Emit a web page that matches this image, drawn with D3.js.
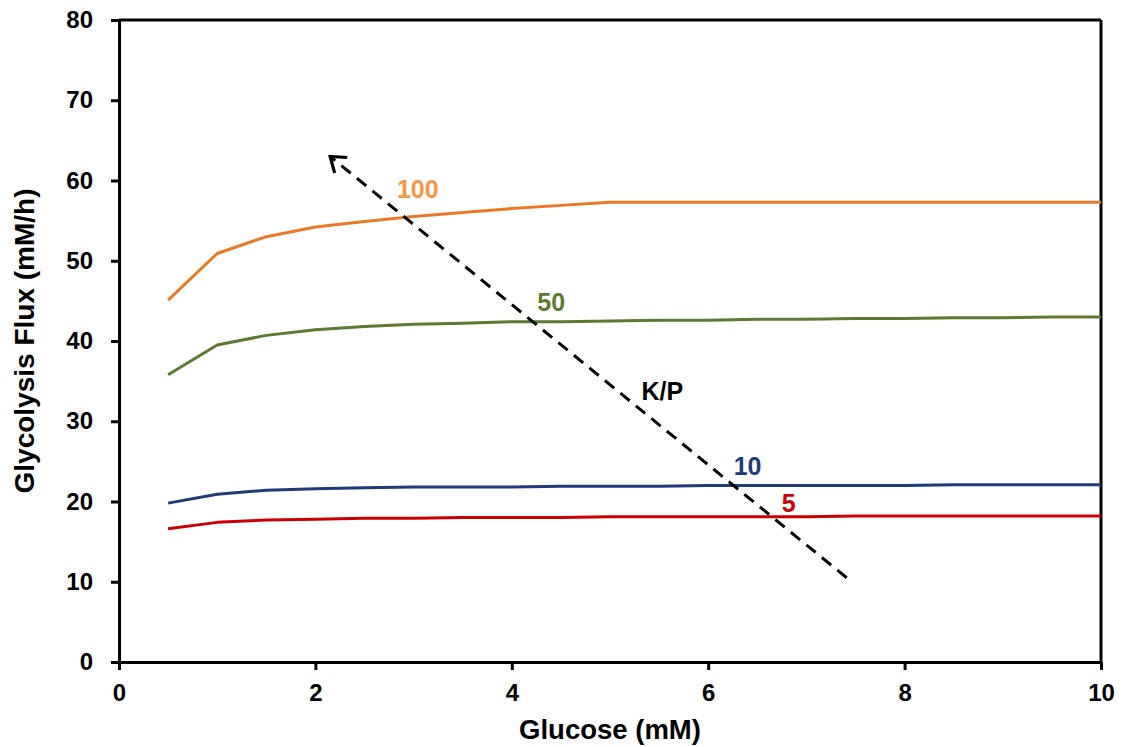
<!DOCTYPE html>
<html>
<head>
<meta charset="utf-8">
<script src="https://cdn.jsdelivr.net/npm/d3@7/dist/d3.min.js"></script>
<style>
  html, body { margin: 0; padding: 0; background: #fff; }
  svg { display: block; font-family: "Liberation Sans", Arial, sans-serif; }
</style>
</head>
<body>
<svg id="chart" width="1125" height="747"></svg>
<script>
// Glucose concentrations (mM)
const glucose = [0.5, 1, 1.5, 2, 2.5, 3, 3.5, 4, 4.5, 5, 5.5, 6, 6.5, 7, 7.5, 8, 8.5, 9, 9.5, 10];

// Glycolysis flux (mM/h) for each K/P ratio
const fluxKP100 = [45.1, 50.9, 53.0, 54.2, 54.9, 55.5, 56.0, 56.5, 56.9, 57.3, 57.3, 57.3, 57.3, 57.3, 57.3, 57.3, 57.3, 57.3, 57.3, 57.3];
const fluxKP50  = [35.8, 39.5, 40.7, 41.4, 41.8, 42.1, 42.2, 42.4, 42.4, 42.5, 42.6, 42.6, 42.7, 42.7, 42.8, 42.8, 42.9, 42.9, 43.0, 43.0];
const fluxKP10  = [19.8, 20.9, 21.4, 21.6, 21.7, 21.8, 21.8, 21.8, 21.9, 21.9, 21.9, 22.0, 22.0, 22.0, 22.0, 22.0, 22.1, 22.1, 22.1, 22.1];
const fluxKP5   = [16.6, 17.4, 17.7, 17.8, 17.9, 17.9, 18.0, 18.0, 18.0, 18.1, 18.1, 18.1, 18.1, 18.1, 18.2, 18.2, 18.2, 18.2, 18.2, 18.2];

const seriesNames = ["100", "50", "10", "5"];
const seriesColors = ["#E97A25", "#5C7A32", "#1F3B78", "#CC0000"];
const labelColors  = ["#F79646", "#5C7A32", "#1F3B78", "#CC0000"];
// label anchor points in data units (glucose, flux)
const labelX = [2.83, 4.26, 6.26, 6.75];
const labelY = [57.8, 43.7, 23.3, 18.7];

const xTicks = [0, 2, 4, 6, 8, 10];
const yTicks = [0, 10, 20, 30, 40, 50, 60, 70, 80];

// K/P trend arrow (data units) and its label
const arrowFrom = [7.41, 10.5];
const arrowTo = [2.15, 63.0];
const kpLabel = { text: "K/P", x: 5.32, y: 32.6 };

const svg = d3.select("#chart");
const x = d3.scaleLinear().domain([0, 10]).range([119, 1101]);
const y = d3.scaleLinear().domain([0, 80]).range([662, 20]);

// Axes
const yAxis = svg.append("g")
  .attr("transform", `translate(${x(0)},0)`)
  .call(d3.axisLeft(y).tickValues(yTicks).tickSize(8).tickSizeOuter(0).tickPadding(18));
const xAxis = svg.append("g")
  .attr("transform", `translate(0,${y(0)})`)
  .call(d3.axisBottom(x).tickValues(xTicks).tickSize(8).tickSizeOuter(0).tickPadding(14));

[yAxis, xAxis].forEach(g => {
  g.selectAll("path, line").attr("stroke", "#000").attr("stroke-width", 3);
  g.selectAll("text")
    .attr("fill", "#000")
    .style("font-size", "24px")
    .style("font-weight", "bold")
    .style("font-family", "'Liberation Sans', Arial, sans-serif");
});

// Frame: top and right edges
svg.append("line")
  .attr("x1", x(0)).attr("x2", x(10))
  .attr("y1", y(80)).attr("y2", y(80))
  .attr("stroke", "#000").attr("stroke-width", 3);
svg.append("line")
  .attr("x1", x(10)).attr("x2", x(10))
  .attr("y1", y(80)).attr("y2", y(0))
  .attr("stroke", "#000").attr("stroke-width", 3);

// Axis titles
svg.append("text")
  .attr("x", (x(0) + x(10)) / 2)
  .attr("y", 739)
  .attr("text-anchor", "middle")
  .style("font-size", "27.5px").style("font-weight", "bold")
  .text("Glucose (mM)");
svg.append("text")
  .attr("transform", `translate(34,${(y(0) + y(80)) / 2}) rotate(-90)`)
  .attr("text-anchor", "middle")
  .style("font-size", "28px").style("font-weight", "bold")
  .text("Glycolysis Flux (mM/h)");

// Flux curves
const seriesValues = [fluxKP100, fluxKP50, fluxKP10, fluxKP5];
const line = d3.line().x(d => x(d[0])).y(d => y(d[1]));
seriesValues.forEach((vals, i) => {
  svg.append("path")
    .datum(glucose.map((g, j) => [g, vals[j]]))
    .attr("fill", "none")
    .attr("stroke", seriesColors[i])
    .attr("stroke-width", 3)
    .attr("stroke-linejoin", "round")
    .attr("d", line);
});

// K/P trend arrow
const defs = svg.append("defs");
defs.append("marker")
  .attr("id", "chevron")
  .attr("viewBox", "-16 -12 18 24")
  .attr("refX", 0).attr("refY", 0)
  .attr("markerWidth", 18).attr("markerHeight", 24)
  .attr("markerUnits", "userSpaceOnUse")
  .attr("orient", "auto")
  .append("path")
  .attr("d", "M-14,-10 L0,0 L-14,10")
  .attr("fill", "none")
  .attr("stroke", "#000")
  .attr("stroke-width", 3.2);

svg.append("line")
  .attr("x1", x(arrowFrom[0])).attr("y1", y(arrowFrom[1]))
  .attr("x2", x(arrowTo[0])).attr("y2", y(arrowTo[1]))
  .attr("stroke", "#000")
  .attr("stroke-width", 3)
  .attr("stroke-dasharray", "12,8")
  .attr("marker-end", "url(#chevron)");

// Series labels
seriesNames.forEach((name, i) => {
  svg.append("text")
    .attr("x", x(labelX[i]))
    .attr("y", y(labelY[i]))
    .attr("fill", labelColors[i])
    .style("font-size", "25px").style("font-weight", "bold")
    .text(name);
});

svg.append("text")
  .attr("x", x(kpLabel.x))
  .attr("y", y(kpLabel.y))
  .attr("fill", "#000")
  .style("font-size", "25px").style("font-weight", "bold")
  .text(kpLabel.text);
</script>
</body>
</html>
